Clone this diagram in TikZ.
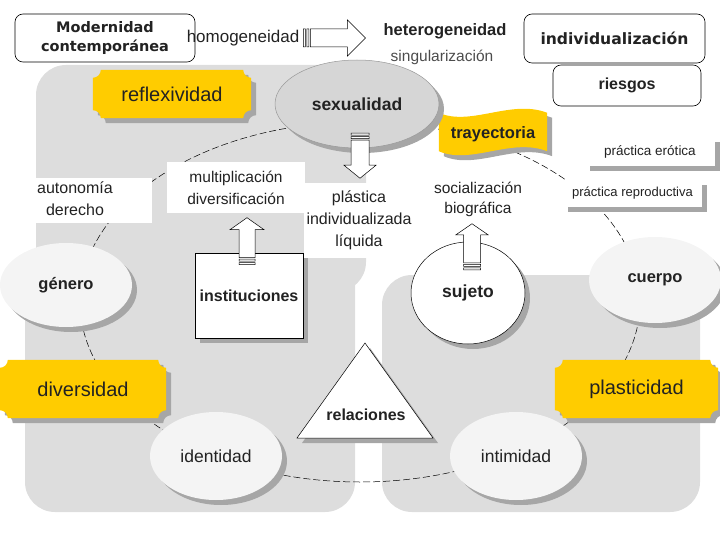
\documentclass[tikz,border=0pt]{standalone}
\usepackage{fontspec}
\setmainfont{Liberation Sans}
\newfontfamily\verdfont{DejaVu Sans}
\usetikzlibrary{positioning,calc,shapes.geometric,shadows}
\pgfdeclarelayer{bg}
\pgfdeclarelayer{mid}
\pgfsetlayers{bg,mid,main}

\definecolor{gold}{RGB}{255,204,0}
\definecolor{panel}{RGB}{221,221,221}
\definecolor{shade}{RGB}{166,166,166}
\definecolor{pale}{RGB}{244,244,244}
\definecolor{sexfill}{RGB}{214,214,214}
\definecolor{ink}{RGB}{34,34,34}

% hollow striped block arrow: tail, angle, length, shaft half, head half, head length
\newcommand\fatarrow[6]{%
  \begin{scope}[shift={#1},rotate=#2]
    \filldraw[fill=white,line width=.5pt] (0,-#4) rectangle (2,#4) (3.5,-#4) rectangle (5.5,#4)
      (7,-#4) -- ({#3-#6},-#4) -- ({#3-#6},-#5) -- (#3,0) -- ({#3-#6},#5) -- ({#3-#6},#4) -- (7,#4) -- cycle;
  \end{scope}}

% yellow plate with notched corners behind a node
\newcommand\plaque[1]{%
  \begin{pgfonlayer}{mid}
    \fill[gold,shad] ($(#1.north west)+(8,0)$) -- ($(#1.north east)+(-8,0)$)
      .. controls ($(#1.north east)+(-8,4.4)$) and ($(#1.north east)+(-4.4,8)$) .. ($(#1.north east)+(0,8)$)
      -- ($(#1.south east)+(0,-8)$)
      .. controls ($(#1.south east)+(-4.4,-8)$) and ($(#1.south east)+(-8,-4.4)$) .. ($(#1.south east)+(-8,0)$)
      -- ($(#1.south west)+(8,0)$)
      .. controls ($(#1.south west)+(8,-4.4)$) and ($(#1.south west)+(4.4,-8)$) .. ($(#1.south west)+(0,-8)$)
      -- ($(#1.north west)+(0,8)$)
      .. controls ($(#1.north west)+(4.4,8)$) and ($(#1.north west)+(8,4.4)$) .. cycle;
  \end{pgfonlayer}}

\begin{document}
\begin{tikzpicture}[x=1pt,y=-1pt,
  every node/.style={inner sep=0pt,text=ink},
  shad/.style={drop shadow={shadow xshift=5pt,shadow yshift=-5pt,fill=shade,opacity=1}},
  frame/.style={draw,line width=.6pt,rounded corners=8pt,fill=white},
  plaq/.style={font=\fontsize{20}{22}\selectfont},
  blob/.style={ellipse,fill=pale,shad,font=\bfseries\fontsize{16.5}{20}\selectfont},
  note/.style={fill=white,align=center,font=\fontsize{15.5}{22}\selectfont},
  card/.style={fill=white,shad,font=\fontsize{13.5}{16}\selectfont},
  ring/.style={dash pattern=on 7pt off 3pt,line width=.5pt}
]
\useasboundingbox (0,0) rectangle (720,540);

% ---- grey panels and the dashed ring ----
\begin{pgfonlayer}{bg}
  \fill[panel,rounded corners=30pt] (36,65) rectangle (366,292);
  \fill[panel,rounded corners=30pt] (25,250) rectangle (355,512);
  \fill[panel,rounded corners=30pt] (382,275) rectangle (700,512);
  \coordinate (hub) at (360,302);
  \draw[ring] (hub) ellipse [x radius=280pt,y radius=180pt];
\end{pgfonlayer}

% ---- header ----
\node[frame,minimum width=180,minimum height=48,align=center,
  font=\verdfont\bfseries\fontsize{14.5}{19}\selectfont] (mod) at (105,38) {Modernidad\\contemporánea};
\node[font=\fontsize{17}{20}\selectfont] (homo) at (243,38) {homogeneidad};
\node[font=\bfseries\fontsize{16.5}{20}\selectfont] (hetero) at (445,31) {heterogeneidad};
\node[font=\fontsize{15.5}{18}\selectfont,text=black!70] (sing) at (442,57) {singularización};
\node[frame,minimum width=181,minimum height=49,
  font=\verdfont\bfseries\fontsize{15.6}{18}\selectfont] (indiv) at (614.5,38.5) {individualización};
\node[frame,minimum width=148,minimum height=41,font=\bfseries\fontsize{16}{19}\selectfont] (ries) at (627,85.5) {riesgos};

% ---- upper ring ----
\node[plaq,minimum width=158,minimum height=48] (refl) at (172,94) {reflexividad};
\plaque{refl}
\node[ellipse,fill=sexfill,draw=black!40,line width=.5pt,shad,minimum width=164,minimum height=88,
  font=\bfseries\fontsize{17.5}{20}\selectfont] (sex) at (357,104) {sexualidad};
\node[minimum width=108,minimum height=38,font=\bfseries\fontsize{16.5}{20}\selectfont] (tray) at (493,134) {trayectoria};
\begin{pgfonlayer}{mid}
  \fill[gold,shad] ($(tray.north west)+(0,-2)$) .. controls ($(tray.north west)+(32,12)$) and ($(tray.north east)+(-36,-16)$) .. ($(tray.north east)+(0,-2)$)
    -- ($(tray.south east)+(0,-2)$) .. controls ($(tray.south east)+(-36,-16)$) and ($(tray.south west)+(32,12)$) .. ($(tray.south west)+(0,-2)$) -- cycle;
\end{pgfonlayer}
\node[card,minimum width=130,minimum height=29] (ero) at (650,151.5) {práctica erótica};
\node[card,minimum width=139,minimum height=27,font=\fontsize{13}{16}\selectfont] (rep) at (632.5,193.5) {práctica reproductiva};

% ---- text labels ----
\node[note,minimum width=117,minimum height=45,font=\fontsize{16}{22}\selectfont] (auto) at (93.5,200.5)
  {\begin{tabular}{@{}c@{}}autonomía\\derecho\end{tabular}\hspace{37pt}};
\node[note,minimum width=138,minimum height=51] (multi) at (236,187.5) {multiplicación\\diversificación};
\node[note,minimum width=110,minimum height=75,font=\fontsize{16}{22}\selectfont] (plas) at (359,220.5) {plástica\\individualizada\\líquida};
\node[align=center,font=\fontsize{15.5}{20}\selectfont] (soc) at (478,199) {socialización\\biográfica};

% ---- middle ----
\node[blob,minimum width=132,minimum height=84] (gen) at (66,285) {género};
\node[draw,line width=.6pt,fill=white,shad,minimum width=108,minimum height=85,
  font=\bfseries\fontsize{16}{20}\selectfont] (inst) at (249,295.5) {instituciones};
\node[ellipse,draw,line width=.5pt,fill=white,shad,minimum width=114,minimum height=102,
  font=\bfseries\fontsize{17.5}{20}\selectfont] (suj) at (468,293) {sujeto};
\node[blob,minimum width=132,minimum height=86] (cuer) at (655,280) {cuerpo};

% ---- lower ring ----
\node[plaq,minimum width=166,minimum height=58] (div) at (83,389) {diversidad};
\plaque{div}
\node[plaq,minimum width=163,minimum height=58] (plast) at (636.5,389) {plasticidad};
\plaque{plast}
\node[font=\bfseries\fontsize{16}{20}\selectfont] (rel) at (366,415) {relaciones};
\begin{pgfonlayer}{mid}
  \filldraw[fill=white,line width=.5pt,shad] ($(rel)+(-1,-72)$) -- ($(rel)+(67,23)$) -- ($(rel)+(-69,23)$) -- cycle;
\end{pgfonlayer}
\node[blob,minimum width=132,minimum height=88,font=\fontsize{17.5}{20}\selectfont] (iden) at (216,456) {identidad};
\node[blob,minimum width=132,minimum height=88,font=\fontsize{17.5}{20}\selectfont] (inti) at (516,456) {intimidad};

% ---- block arrows ----
\fatarrow{($(homo.east)+(4,0)$)}{0}{62}{9}{18}{18}
\fatarrow{($(sex.south)+(3,-15)$)}{-90}{45}{9}{16}{13}
\fatarrow{($(inst.north)+(-2,12)$)}{90}{47}{8}{17}{12}
\fatarrow{($(suj.north)+(4,28)$)}{90}{46}{8.5}{16}{11}
\end{tikzpicture}
\end{document}
